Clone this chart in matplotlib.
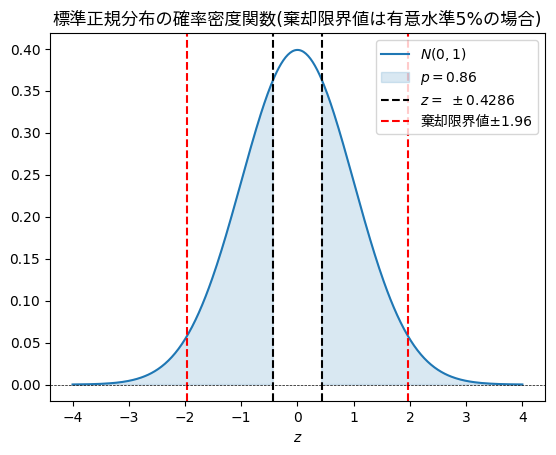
import numpy as np
import matplotlib.pyplot as plt

plt.rcParams['font.family'] = ['DejaVu Sans', 'Noto Sans CJK JP']

# parameters of the chart
mu = 0
sigma = 1
z_value = 0.4286
p_value = 0.86
critical = 1.96
z_range = [-4, 4]

z = np.linspace(z_range[0], z_range[1], 400)
pdf = np.exp(-0.5 * ((z - mu) / sigma) ** 2) / (sigma * np.sqrt(2 * np.pi))

fig, ax = plt.subplots(figsize=(5.56, 4.55), dpi=100)
fig.subplots_adjust(left=0.09, right=0.98, top=0.927, bottom=0.118)

ax.plot(z, pdf, label=r'$N(0,1)$')
ax.fill_between(z, 0, pdf, where=np.abs(z) >= z_value, alpha=0.17, color='C0',
                label=r'$p = %.2f$' % p_value)
ax.axvline(-z_value, color='black', linestyle='--', label=r'$z =\ \pm%.4f$' % z_value)
ax.axvline(z_value, color='black', linestyle='--')
ax.axvline(-critical, color='red', linestyle='--', label='棄却限界値±%.2f' % critical)
ax.axvline(critical, color='red', linestyle='--')
ax.axhline(0, color='black', linestyle='--', linewidth=0.5)

ax.set_xlabel(r'$z$')
ax.set_title('標準正規分布の確率密度関数(棄却限界値は有意水準5%の場合)', fontsize=12.4)
ax.legend(loc='upper right')

plt.savefig('out.png')
